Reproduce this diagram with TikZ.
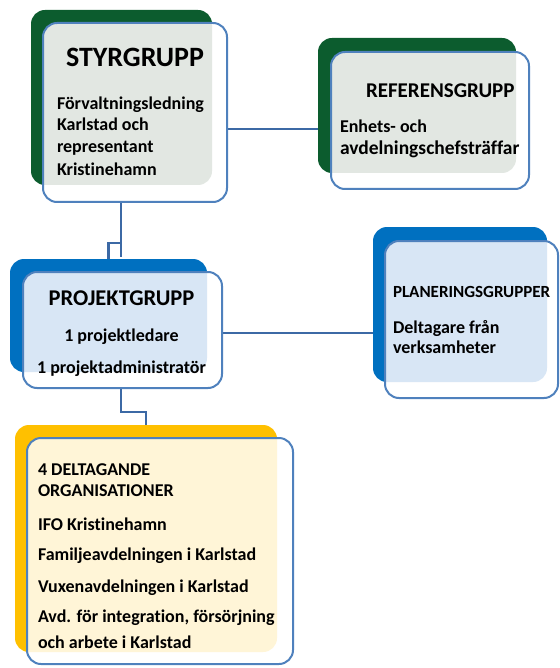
\documentclass[tikz,border=0pt]{standalone}
\usepackage{fontspec}
\setmainfont{Carlito}[RawFeature={-liga;-clig;-calt;-dlig}]
\usetikzlibrary{calc}
\definecolor{dkgreen}{RGB}{12,92,46}
\definecolor{blueback}{RGB}{0,112,192}
\definecolor{goldback}{RGB}{255,192,0}
\definecolor{bordercol}{RGB}{79,129,189}
\definecolor{conncol}{RGB}{60,105,165}
\definecolor{greentint}{RGB}{226,231,226}
\definecolor{bluetint}{RGB}{216,230,245}
\definecolor{goldtint}{RGB}{255,245,215}
\begin{document}
\begin{tikzpicture}[x=1pt,y=-1pt,
  backbox/.style={fill=#1, rounded corners=14pt, inner sep=0pt, outer sep=0pt, anchor=north west},
  frontbox/.style={fill=white, rounded corners=14pt, inner sep=0pt, outer sep=0pt, anchor=north west},
  frame/.style={draw=bordercol, line width=2pt, rounded corners=14pt},
  conn/.style={draw=conncol, line width=2.5pt},
  txt/.style={inner sep=0pt, outer sep=0pt, anchor=base west, font=\bfseries\fontsize{18}{22}\selectfont},
  ctxt/.style={txt, anchor=base},
]
\useasboundingbox (0,0) rectangle (559,668);

% ---------- box shapes (back) ----------
\node[backbox=dkgreen, minimum width=181pt, minimum height=175pt] (styrback) at (31,10) {};
\node[backbox=dkgreen, minimum width=198pt, minimum height=135pt] (refback) at (318,38) {};
\node[backbox=blueback, minimum width=197pt, minimum height=113pt] (projback) at (10,259) {};
\node[backbox=blueback, minimum width=174pt, minimum height=155pt] (planback) at (373,227) {};
\node[backbox=goldback, minimum width=262pt, minimum height=227pt] (orgback) at (15,425) {};

% ---------- connectors ----------
\path ($(styrback.north west)+(0,119)$) coordinate (sr);
\draw[conn] (sr -| styrback.east) -- (sr -| refback.west);
\draw[conn] ($(styrback.south west)+(90,17)$) -- ++(0,55);
\draw[conn] ($(styrback.south west)+(90,58)$) -| (projback.north);
\path ($(projback.north west)+(0,74)$) coordinate (pp);
\draw[conn] (pp -| projback.east) -- (pp -| planback.west);
\draw[conn] ($(projback.south west)+(111,16)$) -- ++(0,24) -| (orgback.north);

% ---------- front boxes ----------
\node[frontbox, minimum width=184pt, minimum height=179pt] (styr) at (43,23) {};
\begin{scope}
  \clip[rounded corners=14pt] (styr.north west) rectangle (styr.south east);
  \fill[greentint, rounded corners=14pt] (styrback.north west) rectangle (styrback.south east);
\end{scope}
\draw[frame] (styr.north west) rectangle (styr.south east);

\node[frontbox, minimum width=198pt, minimum height=137pt] (ref) at (331,52) {};
\begin{scope}
  \clip[rounded corners=14pt] (ref.north west) rectangle (ref.south east);
  \fill[greentint, rounded corners=14pt] (refback.north west) rectangle (refback.south east);
\end{scope}
\draw[frame] (ref.north west) rectangle (ref.south east);

\node[frontbox, minimum width=199pt, minimum height=116pt] (proj) at (23,272) {};
\begin{scope}
  \clip[rounded corners=14pt] (proj.north west) rectangle (proj.south east);
  \fill[bluetint, rounded corners=14pt] (projback.north west) rectangle (projback.south east);
\end{scope}
\draw[frame] (proj.north west) rectangle (proj.south east);

\node[frontbox, minimum width=173pt, minimum height=157pt] (plan) at (385,241) {};
\begin{scope}
  \clip[rounded corners=14pt] (plan.north west) rectangle (plan.south east);
  \fill[bluetint, rounded corners=14pt] (planback.north west) rectangle (planback.south east);
\end{scope}
\draw[frame] (plan.north west) rectangle (plan.south east);

\node[frontbox, minimum width=266pt, minimum height=226pt] (org) at (27,438) {};
\begin{scope}
  \clip[rounded corners=14pt] (org.north west) rectangle (org.south east);
  \fill[goldtint, rounded corners=14pt] (orgback.north west) rectangle (orgback.south east);
\end{scope}
\draw[frame] (org.north west) rectangle (org.south east);

% ---------- texts ----------
\node[ctxt, font=\bfseries\fontsize{28}{32}\selectfont] (t1) at (135,67) {STYRGRUPP};
\node[txt] (t2) at (57,110) {Förvaltningsledning};
\node[txt] (t3) at (57,131) {Karlstad och};
\node[txt] (t4) at (57,153) {representant};
\node[txt] (t5) at (57,176) {Kristinehamn};

\node[txt, font=\bfseries\fontsize{21}{25}\selectfont] (r1) at (366,98) {REFERENSGRUPP};
\node[txt] (r2) at (340,133) {Enhets- och};
\node[txt, font=\bfseries\fontsize{19.5}{23}\selectfont] (r3) at (340,155) {avdelningschefsträffar};

\node[ctxt, font=\bfseries\fontsize{22.5}{27}\selectfont] (p1) at (121.5,305) {PROJEKTGRUPP};
\node[ctxt] (p2) at (121.5,341) {1 projektledare};
\node[ctxt] (p3) at (121.5,373) {1 projektadministratör};

\node[txt, font=\bfseries\fontsize{17}{21}\selectfont] (q1) at (393,297) {PLANERINGSGRUPPER};
\node[txt] (q2) at (393,333) {Deltagare från};
\node[txt] (q3) at (393,353) {verksamheter};

\node[txt] (o1) at (38,475) {4 DELTAGANDE};
\node[txt] (o2) at (38,496) {ORGANISATIONER};
\node[txt] (o3) at (38,530) {IFO Kristinehamn};
\node[txt] (o4) at (38,560) {Familjeavdelningen i Karlstad};
\node[txt] (o5) at (38,592) {Vuxenavdelningen i Karlstad};
\node[txt] (o6) at (38,622) {Avd. för integration, försörjning};
\node[txt] (o7) at (38,648) {och arbete i Karlstad};
\end{tikzpicture}
\end{document}
